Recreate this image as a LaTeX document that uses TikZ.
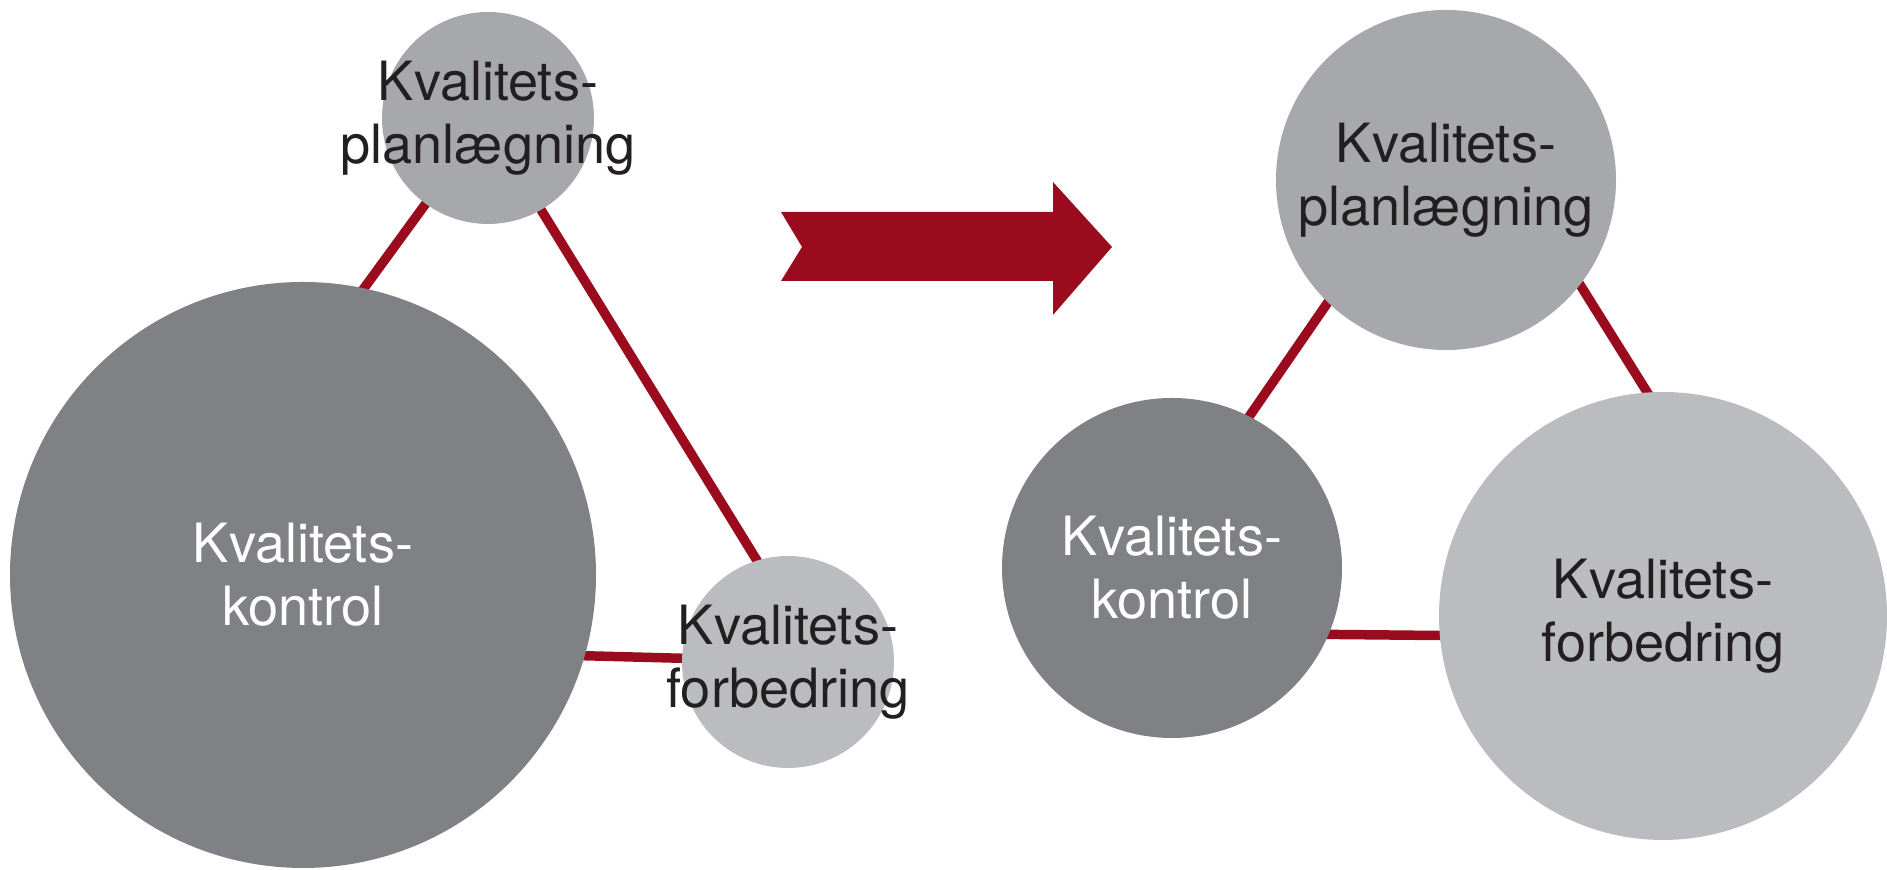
\documentclass[tikz,border=0pt]{standalone}
\usepackage{fontspec}
\setmainfont{TeX Gyre Heros}
\usetikzlibrary{backgrounds}
\definecolor{kontrolgray}{HTML}{808185}
\definecolor{plangray}{HTML}{A7A8AC}
\definecolor{forbgray}{HTML}{BBBCBF}
\definecolor{linkred}{HTML}{9A0C1D}
\definecolor{textblack}{HTML}{231F20}
\begin{document}
\begin{tikzpicture}[
  circ/.style={circle,inner sep=0pt,outer sep=0pt,minimum size=#1},
  word/.style={align=center,text=textblack,font=\fontsize{15.4}{17.9}\selectfont},
  link/.style={linkred,line width=2.7pt,shorten <=-6pt,shorten >=-6pt}]
\useasboundingbox (0,0) rectangle (18.87,8.70);

\node[circ=5.86cm,fill=kontrolgray,label={[word,text=white]center:Kvalitets-\\kontrol}] (kontrolA) at (3.03,2.95) {};
\node[circ=2.12cm,fill=plangray,label={[word]center:Kvalitets-\\planlægning}] (planA) at (4.88,7.52) {};
\node[circ=2.12cm,fill=forbgray,label={[word]center:Kvalitets-\\forbedring}] (forbA) at (7.88,2.08) {};

\node[circ=3.40cm,fill=plangray,label={[word]center:Kvalitets-\\planlægning}] (planB) at (14.46,6.90) {};
\node[circ=3.40cm,fill=kontrolgray,label={[word,text=white]center:Kvalitets-\\kontrol}] (kontrolB) at (11.72,3.02) {};
\node[circ=4.48cm,fill=forbgray,label={[word]center:Kvalitets-\\forbedring}] (forbB) at (16.63,2.54) {};

\begin{pgfonlayer}{background}
\draw[link] (planA.234) -- (kontrolA.78);
\draw[link] (planA.300) -- (forbA.107);
\draw[link] (kontrolA.344) -- (forbA.178);
\draw[link] (planB.226) -- (kontrolB.63);
\draw[link] (planB.322) -- (forbB.94);
\draw[link] (kontrolB.337) -- (forbB.185);
\end{pgfonlayer}

\fill[linkred] (7.81,6.58) -- (10.53,6.58) -- (10.53,6.88) -- (11.12,6.23)
  -- (10.53,5.55) -- (10.53,5.89) -- (7.81,5.89) -- (8.02,6.23) -- cycle;
\end{tikzpicture}
\end{document}
